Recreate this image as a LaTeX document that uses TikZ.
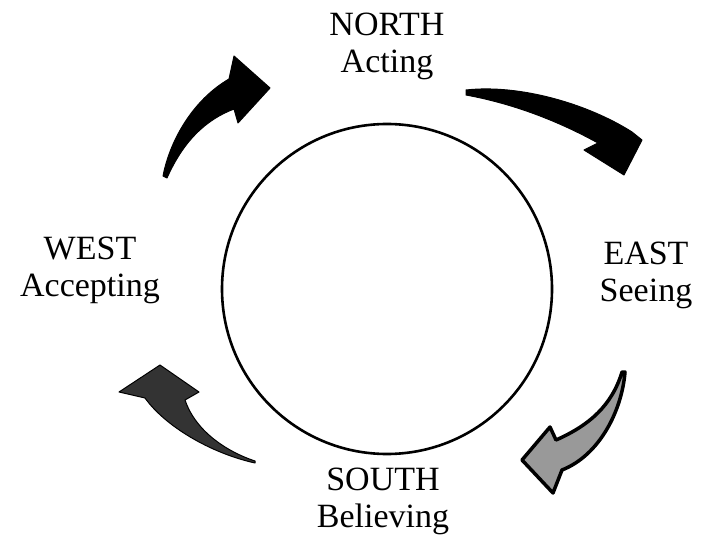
\documentclass[tikz,border=0pt]{standalone}
\usepackage{fontspec}
\setmainfont{Liberation Serif}
\usepackage{xcolor}
\usetikzlibrary{positioning}
\tikzset{
    dirlabel/.style={align=center, inner sep=0pt,
                     font=\fontsize{34}{37}\selectfont},
    wheel/.style={circle, draw, line width=2.6pt, minimum size=330pt,
                  inner sep=0pt},
    inkarrow/.style={fill=black, draw=black, line width=1pt,
                     line join=round},
    inkarrowlight/.style={fill=black!40, draw=black, line width=3.5pt,
                          line join=round},
}

\begin{document}
\begin{tikzpicture}[x=1pt, y=-1pt]
    \useasboundingbox (0,0) rectangle (701,537);
    \node[wheel] (wheel) at (387,289) {};
    \node[dirlabel] (north) at (387,46)  {NORTH\\Acting};
    \node[dirlabel] (east)  at (646,275) {EAST\\Seeing};
    \node[dirlabel] (south) at (383,501) {SOUTH\\Believing};
    \node[dirlabel] (west)  at (90,270)  {WEST\\Accepting};
    % brush arrows, clockwise
    \filldraw[inkarrow] (163,176) .. controls (170,140) and (193,100) .. (229,79)
        -- (234,56) -- (270,88) -- (238,123) -- (234,109)
        .. controls (205,120) and (183,142) .. (167,178) -- cycle;
    \filldraw[inkarrow] (466,90) .. controls (520,84) and (588,104) .. (632,132)
        -- (642,140) -- (624,175) -- (584,150) -- (598,143)
        .. controls (560,122) and (515,104) .. (466,95) -- cycle;
    \filldraw[inkarrowlight] (625,372) .. controls (622,410) and (600,455) .. (562,470)
        -- (553,493) -- (522,460) -- (550,427) -- (556,440)
        .. controls (590,425) and (612,405) .. (622,372) -- cycle;
    \filldraw[inkarrow, fill=black!80] (255,461) .. controls (225,451) and (195,430) .. (185,400)
        -- (199,392) -- (160,365) -- (119,392) -- (145,398)
        .. controls (165,426) and (210,453) .. (255,463) -- cycle;
\end{tikzpicture}
\end{document}
